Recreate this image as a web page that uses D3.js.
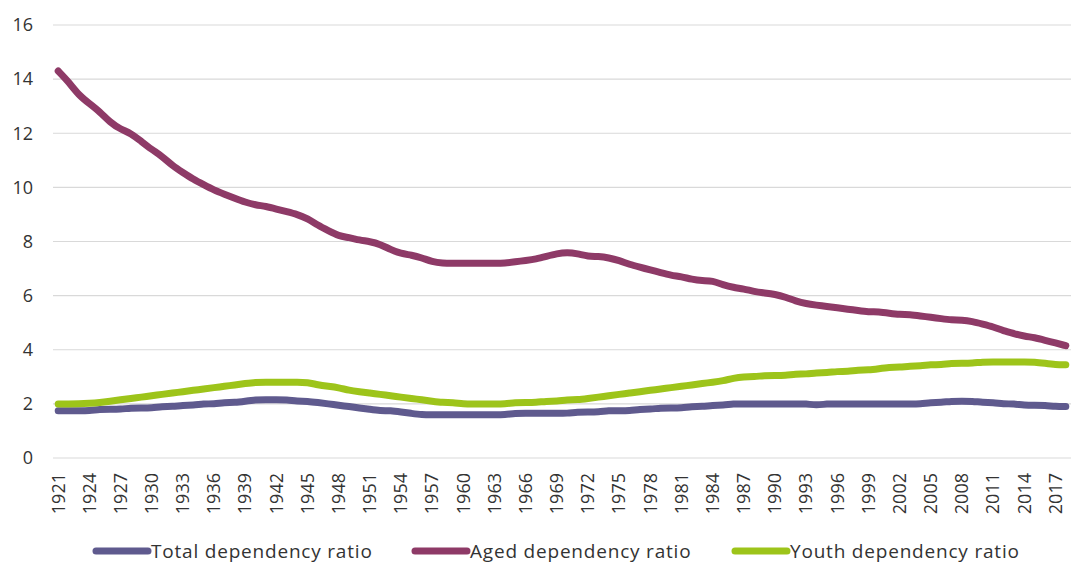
<!DOCTYPE html>
<html>
<head>
<meta charset="utf-8">
<script src="https://cdn.jsdelivr.net/npm/d3@7"></script>
<style>
  body { margin: 0; background: #fff; }
  text { font-family: "Open Sans", sans-serif; }
</style>
</head>
<body>
<svg id="chart" width="1071" height="566"></svg>
<script>
// years 1921 - 2018
const years = d3.range(1921, 2019);

const totalRatio = [
  1.75, 1.75, 1.75, 1.75, 1.8, 1.8, 1.8, 1.85, 1.85, 1.85,
  1.9, 1.9, 1.95, 1.95, 2.0, 2.0, 2.05, 2.05, 2.1, 2.15,
  2.15, 2.15, 2.15, 2.1, 2.1, 2.05, 2.0, 1.95, 1.9, 1.85,
  1.8, 1.75, 1.75, 1.7, 1.65, 1.6, 1.6, 1.6, 1.6, 1.6,
  1.6, 1.6, 1.6, 1.6, 1.65, 1.65, 1.65, 1.65, 1.65, 1.65,
  1.7, 1.7, 1.7, 1.75, 1.75, 1.75, 1.8, 1.8, 1.85, 1.85,
  1.85, 1.9, 1.9, 1.95, 1.95, 2.0, 2.0, 2.0, 2.0, 2.0,
  2.0, 2.0, 2.0, 1.95, 2.0, 2.0, 2.0, 2.0, 2.0, 2.0,
  2.0, 2.0, 2.0, 2.0, 2.05, 2.05, 2.1, 2.1, 2.1, 2.05,
  2.05, 2.0, 2.0, 1.95, 1.95, 1.95, 1.9, 1.9
];

const agedRatio = [
  14.3, 13.9, 13.4, 13.1, 12.8, 12.4, 12.15, 12.0, 11.7, 11.4,
  11.15, 10.8, 10.55, 10.3, 10.1, 9.9, 9.75, 9.6, 9.45, 9.35,
  9.3, 9.2, 9.1, 9.0, 8.85, 8.6, 8.4, 8.2, 8.15, 8.05,
  8.0, 7.9, 7.7, 7.55, 7.5, 7.4, 7.25, 7.2, 7.2, 7.2,
  7.2, 7.2, 7.2, 7.2, 7.25, 7.3, 7.35, 7.45, 7.55, 7.6,
  7.55, 7.45, 7.45, 7.4, 7.3, 7.15, 7.05, 6.95, 6.85, 6.75,
  6.7, 6.6, 6.55, 6.55, 6.4, 6.3, 6.25, 6.15, 6.1, 6.05,
  5.95, 5.8, 5.7, 5.65, 5.6, 5.55, 5.5, 5.45, 5.4, 5.4,
  5.35, 5.3, 5.3, 5.25, 5.2, 5.15, 5.1, 5.1, 5.05, 4.95,
  4.85, 4.7, 4.6, 4.5, 4.45, 4.35, 4.25, 4.15
];

const youthRatio = [
  2.0, 2.0, 2.0, 2.02, 2.05, 2.1, 2.15, 2.2, 2.25, 2.3,
  2.35, 2.4, 2.45, 2.5, 2.55, 2.6, 2.65, 2.7, 2.75, 2.8,
  2.8, 2.8, 2.8, 2.8, 2.8, 2.7, 2.65, 2.6, 2.5, 2.45,
  2.4, 2.35, 2.3, 2.25, 2.2, 2.15, 2.1, 2.05, 2.05, 2.0,
  2.0, 2.0, 2.0, 2.0, 2.05, 2.05, 2.05, 2.1, 2.1, 2.15,
  2.15, 2.2, 2.25, 2.3, 2.35, 2.4, 2.45, 2.5, 2.55, 2.6,
  2.65, 2.7, 2.75, 2.8, 2.85, 2.95, 3.0, 3.0, 3.05, 3.05,
  3.05, 3.1, 3.1, 3.15, 3.15, 3.2, 3.2, 3.25, 3.25, 3.3,
  3.35, 3.35, 3.4, 3.4, 3.45, 3.45, 3.5, 3.5, 3.5, 3.55,
  3.55, 3.55, 3.55, 3.55, 3.55, 3.5, 3.45, 3.45
];

const yTicks = [0, 2, 4, 6, 8, 10, 12, 14, 16];
const xTickYears = d3.range(1921, 2019, 3);

const series = [
  { name: 'Total dependency ratio', values: totalRatio, color: '#5f5a8e' },
  { name: 'Aged dependency ratio', values: agedRatio, color: '#8e3a67' },
  { name: 'Youth dependency ratio', values: youthRatio, color: '#9dc41a' }
];

const svg = d3.select('#chart');
const margin = { left: 53, right: 0, top: 25, bottom: 108 };
const width = 1071, height = 566;

const x = d3.scaleBand()
  .domain(years)
  .range([margin.left, width - margin.right]);

const y = d3.scaleLinear()
  .domain([0, 16])
  .range([height - margin.bottom, margin.top]);

// Gridlines
svg.append('g')
  .attr('class', 'grid')
  .selectAll('line')
  .data(yTicks)
  .join('line')
  .attr('x1', margin.left)
  .attr('x2', width - margin.right)
  .attr('y1', (d) => y(d))
  .attr('y2', (d) => y(d))
  .attr('stroke', '#d9d9d9')
  .attr('stroke-width', 1.2);

// Y axis labels
const yAxis = svg.append('g')
  .attr('transform', `translate(${margin.left - 20},0)`)
  .call(d3.axisLeft(y).tickValues(yTicks).tickSize(0).tickPadding(0));
yAxis.select('.domain').remove();
yAxis.selectAll('text')
  .attr('font-size', 18)
  .attr('fill', '#333')
  .style('font-family', '"Open Sans", sans-serif');

// X axis labels (rotated)
const xAxis = svg.append('g')
  .attr('transform', `translate(0,${y(0)})`)
  .call(d3.axisBottom(x).tickValues(xTickYears).tickSize(0));
xAxis.select('.domain').remove();
xAxis.selectAll('text')
  .attr('font-size', 18)
  .attr('fill', '#333')
  .style('font-family', '"Open Sans", sans-serif')
  .attr('text-anchor', 'end')
  .attr('dy', '0.35em')
  .attr('transform', 'translate(0,15) rotate(-90)')
  .attr('x', 0)
  .attr('y', 0);

// Lines
const line = d3.line()
  .x((d, i) => x(years[i]) + x.bandwidth() / 2)
  .y((d) => y(d))
  .curve(d3.curveBasis);

svg.append('g')
  .selectAll('path')
  .data(series)
  .join('path')
  .attr('d', (d) => line(d.values))
  .attr('fill', 'none')
  .attr('stroke', (d) => d.color)
  .attr('stroke-width', 7)
  .attr('stroke-linejoin', 'round')
  .attr('stroke-linecap', 'round');

// Legend
const legendX = [93, 412, 732];
const legend = svg.append('g')
  .selectAll('g')
  .data(series)
  .join('g')
  .attr('transform', (d, i) => `translate(${legendX[i]},551)`);

legend.append('line')
  .attr('x1', 3)
  .attr('x2', 55)
  .attr('stroke', (d) => d.color)
  .attr('stroke-width', 7)
  .attr('stroke-linecap', 'round');

legend.append('text')
  .attr('x', 58)
  .attr('dy', '0.35em')
  .attr('font-size', 19)
  .attr('letter-spacing', 0.8)
  .attr('fill', '#333')
  .text((d) => d.name);
</script>
</body>
</html>
